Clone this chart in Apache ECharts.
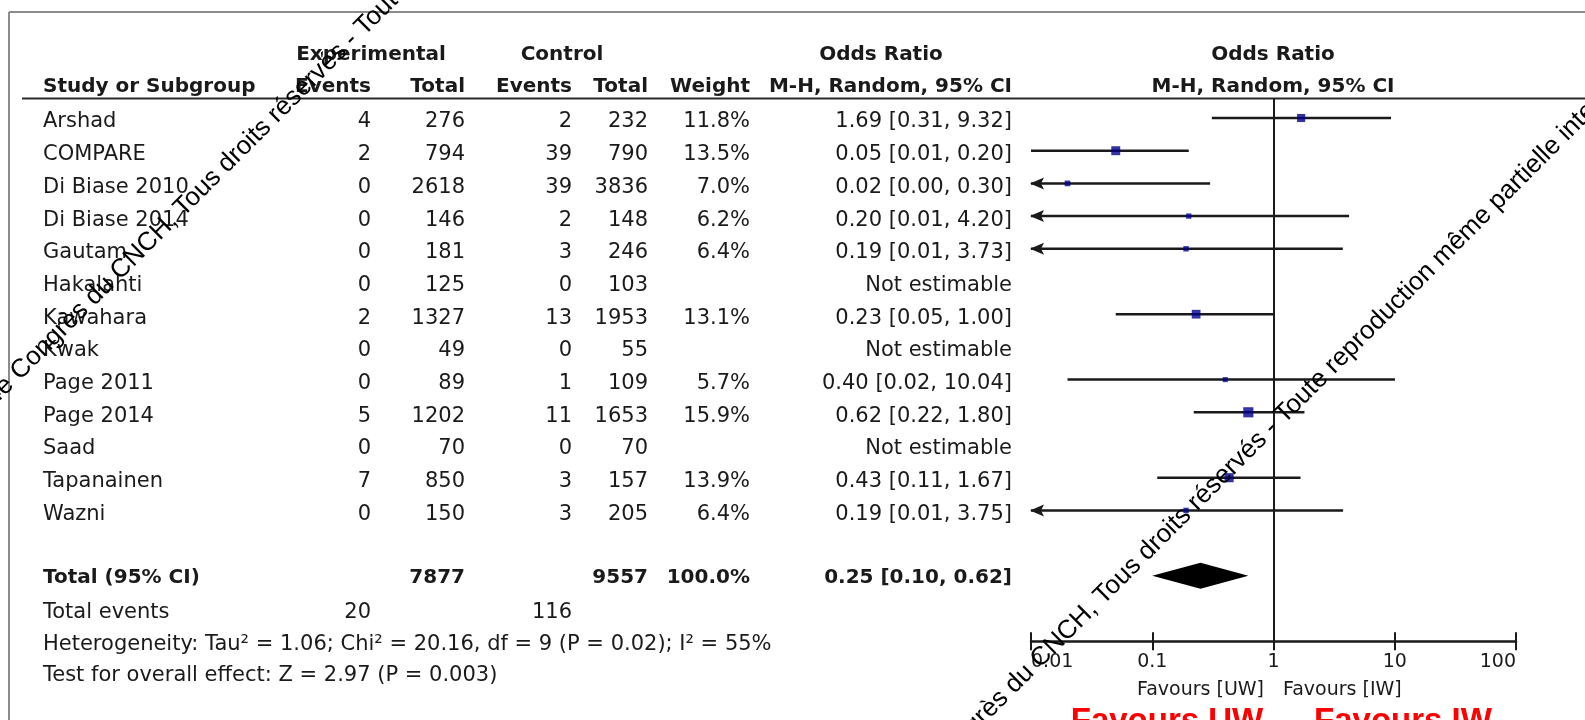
<!DOCTYPE html>
<html>
<head>
<meta charset="utf-8">
<script src="https://cdn.jsdelivr.net/npm/echarts@6/dist/echarts.min.js"></script>
<style>
html,body{margin:0;padding:0;background:#fff;}
#chart{width:1585px;height:720px;}
</style>
</head>
<body>
<div id="chart"></div>
<script>
// ---------------- DATA ----------------
const studies    = ['Arshad','COMPARE','Di Biase 2010','Di Biase 2014','Gautam','Hakalahti','Kawahara','Kwak','Page 2011','Page 2014','Saad','Tapanainen','Wazni'];
const expEvents  = [4, 2, 0, 0, 0, 0, 2, 0, 0, 5, 0, 7, 0];
const expTotal   = [276, 794, 2618, 146, 181, 125, 1327, 49, 89, 1202, 70, 850, 150];
const ctrlEvents = [2, 39, 39, 2, 3, 0, 13, 0, 1, 11, 0, 3, 3];
const ctrlTotal  = [232, 790, 3836, 148, 246, 103, 1953, 55, 109, 1653, 70, 157, 205];
const weights    = [11.8, 13.5, 7.0, 6.2, 6.4, null, 13.1, null, 5.7, 15.9, null, 13.9, 6.4];
const orEst      = [1.69, 0.05, 0.02, 0.20, 0.19, null, 0.23, null, 0.40, 0.62, null, 0.43, 0.19];
const orLow      = [0.31, 0.01, 0.00, 0.01, 0.01, null, 0.05, null, 0.02, 0.22, null, 0.11, 0.01];
const orHigh     = [9.32, 0.20, 0.30, 4.20, 3.73, null, 1.00, null, 10.04, 1.80, null, 1.67, 3.75];
const lowClipped = [0, 0, 1, 1, 1, 0, 0, 0, 0, 0, 0, 0, 1];

const totalLabel     = 'Total (95% CI)';
const totalN         = [7877, 9557];
const totalWeight    = 100.0;
const pooledOR       = [0.25, 0.10, 0.62];   // estimate, low, high
const totalEvents    = [20, 116];
const heterogeneity  = { tau2: 1.06, chi2: 20.16, df: 9, p: '0.02', i2: 55 };
const overallEffect  = { z: 2.97, p: '0.003' };

const xTicks      = [0.01, 0.1, 1, 10, 100];
const xTickLabels = ['0.01', '0.1', '1', '10', '100'];
const favourLeft  = 'Favours [UW]';
const favourRight = 'Favours [IW]';
const bigLeft     = 'Favours UW';
const bigRight    = 'Favours IW';
const watermark   = 'Congrès du CNCH, Tous droits réservés - Toute reproduction même partielle interdite';
const watermarkPre = '24e ';

// ---------------- LAYOUT / STYLE ----------------
const FONT = '"DejaVu Sans", sans-serif';
const TXT = '#1a1a1a';
const FS = 21;
const FSB = 20;
const TEXT_DY = 4;
const col = { name: 43, expEv: 371, expTot: 465, ctlEv: 572, ctlTot: 648, weight: 750, ci: 1012 };
const totalRow = studies.length + 1;

const f2 = v => v.toFixed(2);
const ciText = i => orEst[i] == null ? 'Not estimable'
  : `${f2(orEst[i])} [${f2(orLow[i])}, ${f2(orHigh[i])}]`;

function txt(x, y, text, align, bold, size, color) {
  return {
    type: 'text', x: x, y: y, silent: true,
    style: {
      text: String(text), x: 0, y: 0,
      font: `${bold ? 'bold ' : ''}${size || (bold ? FSB : FS)}px ${FONT}`,
      fill: color || TXT,
      align: align || 'left', verticalAlign: 'middle',
      textAlign: align || 'left', textVerticalAlign: 'middle'
    }
  };
}

const chart = echarts.init(document.getElementById('chart'), null, { renderer: 'canvas' });

// table rows (text) drawn against the shared row axis
const tableSeries = {
  type: 'custom', coordinateSystem: 'cartesian2d', clip: false, silent: true, z: 5,
  data: studies.map((s, i) => [1, i]),
  encode: { x: 0, y: 1 },
  renderItem: (params, api) => {
    const i = params.dataIndex;
    const y = api.coord([1, api.value(1)])[1] + TEXT_DY;
    return {
      type: 'group',
      children: [
        txt(col.name, y, studies[i], 'left'),
        txt(col.expEv, y, expEvents[i], 'right'),
        txt(col.expTot, y, expTotal[i], 'right'),
        txt(col.ctlEv, y, ctrlEvents[i], 'right'),
        txt(col.ctlTot, y, ctrlTotal[i], 'right'),
        txt(col.weight, y, weights[i] == null ? '' : weights[i].toFixed(1) + '%', 'right'),
        txt(col.ci, y, ciText(i), 'right')
      ]
    };
  }
};

const totalSeries = {
  type: 'custom', coordinateSystem: 'cartesian2d', clip: false, silent: true, z: 5,
  data: [[1, totalRow]],
  encode: { x: 0, y: 1 },
  renderItem: (params, api) => {
    const y = api.coord([1, api.value(1)])[1] + 2;
    return {
      type: 'group',
      children: [
        txt(col.name, y, totalLabel, 'left', true),
        txt(col.expTot, y, totalN[0], 'right', true),
        txt(col.ctlTot, y, totalN[1], 'right', true),
        txt(col.weight, y, totalWeight.toFixed(1) + '%', 'right', true),
        txt(col.ci, y, `${f2(pooledOR[0])} [${f2(pooledOR[1])}, ${f2(pooledOR[2])}]`, 'right', true)
      ]
    };
  }
};

const ciData = [];
studies.forEach((s, i) => {
  if (orEst[i] != null) ciData.push([orLow[i], orHigh[i], i, lowClipped[i]]);
});
const ciSeries = {
  type: 'custom', coordinateSystem: 'cartesian2d', clip: false, silent: true, z: 3,
  data: ciData,
  encode: { x: 1, y: 2 },
  renderItem: (params, api) => {
    const low = Math.max(api.value(0), xTicks[0]);
    const high = api.value(1), row = api.value(2), clipped = api.value(3);
    const p1 = api.coord([low, row]);
    const p2 = api.coord([high, row]);
    const children = [{
      type: 'line',
      shape: { x1: p1[0], y1: p1[1], x2: p2[0], y2: p2[1] },
      style: { stroke: '#1a1a1a', lineWidth: 2.5 }
    }];
    if (clipped) {
      children.push({
        type: 'polygon',
        shape: { points: [[p1[0] - 1, p1[1]], [p1[0] + 13, p1[1] - 6], [p1[0] + 10, p1[1]], [p1[0] + 13, p1[1] + 6]] },
        style: { fill: '#1a1a1a' }
      });
    }
    return { type: 'group', children };
  }
};

const pointData = [];
studies.forEach((s, i) => {
  if (orEst[i] != null) pointData.push([orEst[i], i, weights[i]]);
});
const pointSeries = {
  type: 'scatter', silent: true, z: 4,
  data: pointData,
  symbol: 'rect',
  symbolSize: v => 2.2 + 0.5 * v[2],
  itemStyle: { color: '#00008c' },
  markLine: {
    silent: true, symbol: 'none', animation: false,
    label: { show: false },
    lineStyle: { color: '#1a1a1a', width: 2, type: 'solid' },
    data: [{ xAxis: 1 }]
  }
};

const diamondSeries = {
  type: 'custom', coordinateSystem: 'cartesian2d', clip: false, silent: true, z: 4,
  data: [[pooledOR[0], pooledOR[1], pooledOR[2], totalRow]],
  encode: { x: 0, y: 3 },
  renderItem: (params, api) => {
    const row = api.value(3);
    const c = api.coord([api.value(0), row]);
    const l = api.coord([api.value(1), row]);
    const r = api.coord([api.value(2), row]);
    const h = 13;
    return {
      type: 'polygon',
      shape: { points: [[l[0], c[1]], [c[0], c[1] - h], [r[0], c[1]], [c[0], c[1] + h]] },
      style: { fill: '#000' }
    };
  }
};

// static text / decoration
const Y1 = 55, Y2 = 87;
const graphics = [
  { type: 'line', silent: true, shape: { x1: 9, y1: 12, x2: 1585, y2: 12 }, style: { stroke: '#8c8c8c', lineWidth: 2 } },
  { type: 'line', silent: true, shape: { x1: 9, y1: 12, x2: 9, y2: 720 }, style: { stroke: '#8c8c8c', lineWidth: 2 } },
  { type: 'line', silent: true, shape: { x1: 22, y1: 98.5, x2: 1585, y2: 98.5 }, style: { stroke: '#2a2a2a', lineWidth: 2.2 } },
  txt(371, Y1, 'Experimental', 'center', true),
  txt(562, Y1, 'Control', 'center', true),
  txt(881, Y1, 'Odds Ratio', 'center', true),
  txt(1273, Y1, 'Odds Ratio', 'center', true),
  txt(col.name, Y2, 'Study or Subgroup', 'left', true),
  txt(col.expEv, Y2, 'Events', 'right', true),
  txt(col.expTot, Y2, 'Total', 'right', true),
  txt(col.ctlEv, Y2, 'Events', 'right', true),
  txt(col.ctlTot, Y2, 'Total', 'right', true),
  txt(col.weight, Y2, 'Weight', 'right', true),
  txt(col.ci, Y2, 'M-H, Random, 95% CI', 'right', true),
  txt(1273, Y2, 'M-H, Random, 95% CI', 'center', true),
  txt(col.name, 613, 'Total events', 'left'),
  txt(col.expEv, 613, totalEvents[0], 'right'),
  txt(col.ctlEv, 613, totalEvents[1], 'right'),
  txt(col.name, 645, `Heterogeneity: Tau² = ${heterogeneity.tau2.toFixed(2)}; Chi² = ${heterogeneity.chi2.toFixed(2)}, df = ${heterogeneity.df} (P = ${heterogeneity.p}); I² = ${heterogeneity.i2}%`, 'left'),
  txt(col.name, 676, `Test for overall effect: Z = ${overallEffect.z.toFixed(2)} (P = ${overallEffect.p})`, 'left'),
  txt(1264, 690, favourLeft, 'right', false, 19),
  txt(1283, 690, favourRight, 'left', false, 19),
  {
    type: 'text', x: 1167, y: 705, silent: true, z: 50,
    style: { text: bigLeft, x: 0, y: 0, font: 'bold 33px "Liberation Sans", Arial, sans-serif', fill: '#ff0000', align: 'center', verticalAlign: 'top', textAlign: 'center', textVerticalAlign: 'top' }
  },
  {
    type: 'text', x: 1403, y: 705, silent: true, z: 50,
    style: { text: bigRight, x: 0, y: 0, font: 'bold 33px "Liberation Sans", Arial, sans-serif', fill: '#ff0000', align: 'center', verticalAlign: 'top', textAlign: 'center', textVerticalAlign: 'top' }
  }
];
// diagonal copyright watermarks
[[24, 385], [944, 773]].forEach(p => {
  graphics.push({
    type: 'text', x: p[0], y: p[1], rotation: Math.PI / 4, silent: true, z: 60,
    style: { text: watermark, x: 0, y: 0, font: '26px "Liberation Sans", Arial, sans-serif', fill: '#000', align: 'left', verticalAlign: 'bottom', textAlign: 'left', textVerticalAlign: 'bottom' }
  });
  graphics.push({
    type: 'text', x: p[0], y: p[1], rotation: Math.PI / 4, silent: true, z: 60,
    style: { text: watermarkPre, x: 0, y: 0, font: '26px "Liberation Sans", Arial, sans-serif', fill: '#000', align: 'right', verticalAlign: 'bottom', textAlign: 'right', textVerticalAlign: 'bottom' }
  });
});

const tickLabel = v => {
  let best = 0, d = Infinity;
  xTicks.forEach((t, k) => { const dd = Math.abs(Math.log10(v) - Math.log10(t)); if (dd < d) { d = dd; best = k; } });
  return xTickLabels[best];
};

const option = {
  animation: false,
  backgroundColor: '#fff',
  grid: { left: 1031, right: 69, top: 98.38, bottom: 78.8, containLabel: false },
  xAxis: [
    {
      type: 'log', logBase: 10, min: xTicks[0], max: xTicks[xTicks.length - 1], position: 'bottom',
      axisLine: { show: true, onZero: false, lineStyle: { color: '#1a1a1a', width: 2.5 } },
      axisTick: { show: true, length: 9, lineStyle: { color: '#1a1a1a', width: 2 } },
      axisLabel: { show: true, fontFamily: FONT, fontSize: 19, color: TXT, margin: 11, formatter: tickLabel, alignMinLabel: 'left', alignMaxLabel: 'right' },
      splitLine: { show: false }, minorTick: { show: false }
    },
    {
      type: 'log', logBase: 10, min: xTicks[0], max: xTicks[xTicks.length - 1], position: 'bottom',
      axisLine: { show: false, onZero: false },
      axisTick: { show: true, inside: true, length: 9, lineStyle: { color: '#1a1a1a', width: 2 } },
      axisLabel: { show: false }, splitLine: { show: false }
    }
  ],
  yAxis: { type: 'value', min: -0.6, max: 16.0, inverse: true, show: false, splitLine: { show: false } },
  graphic: { elements: graphics },
  series: [tableSeries, totalSeries, ciSeries, pointSeries, diamondSeries]
};
chart.setOption(option);
</script>
</body>
</html>
